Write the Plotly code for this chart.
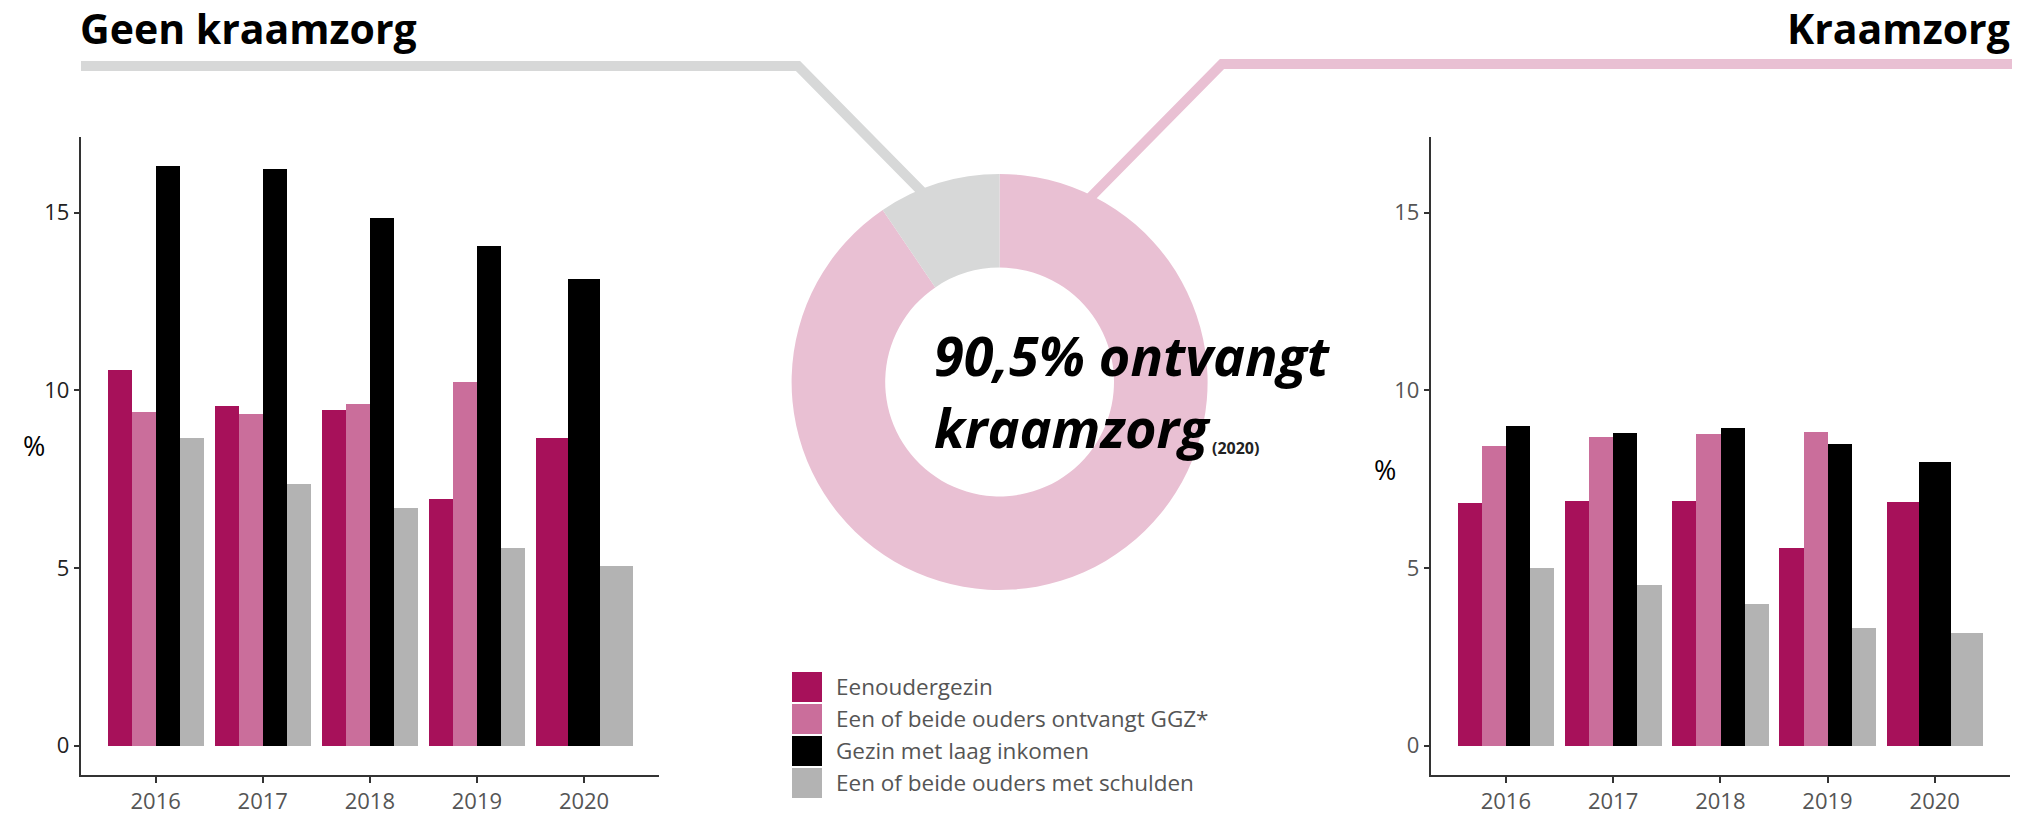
import plotly.graph_objects as go

# ---------------- data ----------------
years = ["2016", "2017", "2018", "2019", "2020"]
series_names = [
    "Eenoudergezin",
    "Een of beide ouders ontvangt GGZ*",
    "Gezin met laag inkomen",
    "Een of beide ouders met schulden",
]
series_colors = ["#A7115A", "#CA6E9B", "#000000", "#B3B3B3"]

# Geen kraamzorg (%)
geen_eenouder = [10.57, 9.56, 9.44, 6.94, 8.65]
geen_ggz = [9.39, 9.33, 9.61, 10.23, None]
geen_laag_inkomen = [16.31, 16.23, 14.85, 14.06, 13.13]
geen_schulden = [8.65, 7.36, 6.68, 5.56, 5.05]

# Kraamzorg (%)
kraam_eenouder = [6.83, 6.88, 6.88, 5.56, 6.85]
kraam_ggz = [8.43, 8.68, 8.77, 8.82, None]
kraam_laag_inkomen = [8.99, 8.80, 8.94, 8.49, 7.98]
kraam_schulden = [5.00, 4.52, 3.98, 3.31, 3.17]

donut_labels = ["Kraamzorg", "Geen kraamzorg"]
donut_values = [90.5, 9.5]
donut_colors = ["#E9C0D3", "#D7D8D8"]

y_ticks = [0, 5, 10, 15]

title_left = "Geen kraamzorg"
title_right = "Kraamzorg"
center_line1 = "90,5% ontvangt"
center_line2 = "kraamzorg"
center_year = "(2020)"

# ---------------- layout helpers ----------------
W, H = 2042, 814
FONT = "Open Sans"
GROUP_W = 0.9


def px(x):
    return x / W


def py(y):
    return 1 - y / H


fig = go.Figure()


def add_panel(data, xa, ya):
    n_present = [sum(1 for s in data if s[i] is not None) for i in range(len(years))]
    pos = [0] * len(years)
    for k, vals in enumerate(data):
        xs, ys, offs, ws = [], [], [], []
        for i, v in enumerate(vals):
            if v is None:
                continue
            w = GROUP_W / n_present[i]
            xs.append(years[i])
            ys.append(v)
            offs.append(-GROUP_W / 2 + pos[i] * w)
            ws.append(w)
            pos[i] += 1
        fig.add_trace(go.Bar(
            x=xs, y=ys, offset=offs, width=ws,
            marker=dict(color=series_colors[k], line=dict(width=0)),
            name=series_names[k], showlegend=False,
            xaxis=xa, yaxis=ya,
            hovertemplate="%{x}: %{y:.1f}%<extra>" + series_names[k] + "</extra>",
        ))


add_panel([geen_eenouder, geen_ggz, geen_laag_inkomen, geen_schulden], "x", "y")
add_panel([kraam_eenouder, kraam_ggz, kraam_laag_inkomen, kraam_schulden], "x2", "y2")

# donut
cx, cy, R = 999.6, 382, 208
fig.add_trace(go.Pie(
    labels=donut_labels, values=donut_values, hole=0.55, sort=False,
    direction="clockwise", rotation=0,
    marker=dict(colors=donut_colors, line=dict(width=0)),
    textinfo="none", showlegend=False,
    domain=dict(x=[px(cx - R), px(cx + R)], y=[py(cy + R), py(cy - R)]),
))

y_range = [-0.83, 17.13]
ydom = [py(775), py(137)]


def xaxis_cfg(x0, x1, anchor):
    return dict(
        domain=[px(x0), px(x1)], anchor=anchor, type="category",
        range=[-0.7, 4.7], showline=True, linecolor="#333333", linewidth=2,
        ticks="outside", ticklen=6, tickwidth=1.5, tickcolor="#333333",
        tickfont=dict(family=FONT, size=22, color="#555555"),
        showgrid=False, zeroline=False, fixedrange=True,
    )


def yaxis_cfg(anchor, labcolor):
    return dict(
        domain=ydom, anchor=anchor, range=y_range, tickvals=y_ticks,
        showline=True, linecolor="#333333", linewidth=2,
        ticks="outside", ticklen=5, tickwidth=1.5, tickcolor="#333333",
        tickfont=dict(family=FONT, size=22, color=labcolor),
        showgrid=False, zeroline=False, fixedrange=True,
    )


annotations = [
    dict(text="%", x=px(33.5), y=py(445), xref="paper", yref="paper",
         xanchor="center", yanchor="middle",
         showarrow=False, font=dict(family=FONT, size=27, color="#000000")),
    dict(text="%", x=px(1385), y=py(470), xref="paper", yref="paper",
         xanchor="center", yanchor="middle",
         showarrow=False, font=dict(family=FONT, size=27, color="#000000")),
    dict(text="<b>" + title_left + "</b>", x=px(78), y=py(28), xref="paper", yref="paper",
         xanchor="left", yanchor="middle", showarrow=False,
         font=dict(family=FONT, size=41, color="#000000")),
    dict(text="<b>" + title_right + "</b>", x=px(2012), y=py(28), xref="paper", yref="paper",
         xanchor="right", yanchor="middle", showarrow=False,
         font=dict(family=FONT, size=41, color="#000000")),
    dict(text="<b><i>" + center_line1 + "</i></b>", x=px(932), y=py(355), xref="paper", yref="paper",
         xanchor="left", yanchor="middle", showarrow=False,
         font=dict(family=FONT, size=54, color="#000000")),
    dict(text="<b><i>" + center_line2 + "</i></b>", x=px(932), y=py(427), xref="paper", yref="paper",
         xanchor="left", yanchor="middle", showarrow=False,
         font=dict(family=FONT, size=54, color="#000000")),
    dict(text="<b>" + center_year + "</b>", x=px(1210), y=py(448), xref="paper", yref="paper",
         xanchor="left", yanchor="middle", showarrow=False,
         font=dict(family=FONT, size=16, color="#222222")),
]

shapes = [
    # connector lines from titles to donut
    dict(type="path", xref="paper", yref="paper", layer="below",
         path=f"M {px(81)},{py(66)} L {px(798)},{py(66)} L {px(935)},{py(205)}",
         line=dict(color=donut_colors[1], width=10)),
    dict(type="path", xref="paper", yref="paper", layer="below",
         path=f"M {px(2012)},{py(64)} L {px(1222)},{py(64)} L {px(1080)},{py(208)}",
         line=dict(color=donut_colors[0], width=10)),
]

# manual legend (large square swatches)
leg_top = 672
leg_step = 32
for k, name in enumerate(series_names):
    y0 = leg_top + k * leg_step
    shapes.append(dict(type="rect", xref="paper", yref="paper",
                       x0=px(792), x1=px(822), y0=py(y0 + 30), y1=py(y0),
                       fillcolor=series_colors[k], line=dict(width=0)))
    annotations.append(dict(text=name, x=px(834), y=py(y0 + 14), xref="paper", yref="paper",
                            xanchor="left", yanchor="middle", showarrow=False,
                            font=dict(family=FONT, size=22.5, color="#555555")))

fig.update_layout(
    width=W, height=H, autosize=False,
    margin=dict(l=0, r=0, t=0, b=0),
    paper_bgcolor="white", plot_bgcolor="white",
    barmode="overlay", bargap=0,
    xaxis=xaxis_cfg(80.7, 659, "y"),
    yaxis=yaxis_cfg("x", "#222222"),
    xaxis2=xaxis_cfg(1430.8, 2009.8, "y2"),
    yaxis2=yaxis_cfg("x2", "#555555"),
    annotations=annotations,
    shapes=shapes,
    showlegend=False,
)

fig.write_html("out.html", config={"displayModeBar": False},
               post_script="document.body.style.margin='0';document.body.style.overflow='hidden';")
